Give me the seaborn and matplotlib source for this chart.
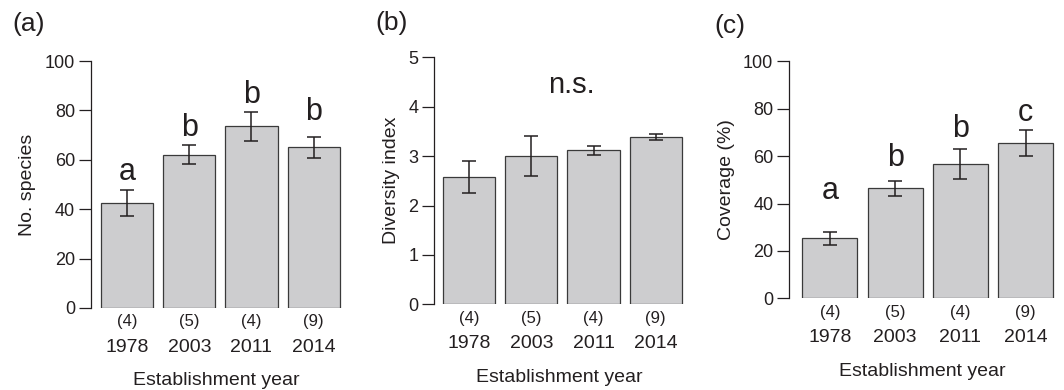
import matplotlib
matplotlib.use('Agg')
import matplotlib.pyplot as plt
import pandas as pd
import seaborn as sns

# values (means +/- SE)
years = ['1978', '2003', '2011', '2014']
n_plots = ['(4)', '(5)', '(4)', '(9)']

species_mean = [42.5, 62.0, 73.5, 65.0]
species_se = [5.2, 3.9, 5.9, 4.1]
species_letters = ['a', 'b', 'b', 'b']
species_letter_y = [52, 69.5, 83, 76]

diversity_mean = [2.58, 3.00, 3.12, 3.39]
diversity_se = [0.33, 0.40, 0.09, 0.06]

coverage_mean = [25.4, 46.5, 56.6, 65.6]
coverage_se = [2.7, 3.2, 6.3, 5.5]
coverage_letters = ['a', 'b', 'b', 'c']
coverage_letter_y = [42, 56, 68, 75]

sns.set_style('ticks')
plt.rcParams['font.family'] = ['Liberation Sans', 'DejaVu Sans']
ink = '#231f20'
plt.rcParams['text.color'] = ink
plt.rcParams['axes.labelcolor'] = ink
plt.rcParams['xtick.color'] = ink
plt.rcParams['ytick.color'] = ink

W, H = 1064, 390
fig = plt.figure(figsize=(W / 100, H / 100), dpi=100)

# pixel layout: left spine x, y of zero, y of top, px per category
panels = [
    dict(tag='(a)', mean=species_mean, se=species_se, ylab='No. species',
         ymax=100, ticks=[0, 20, 40, 60, 80, 100], letters=species_letters,
         letter_y=species_letter_y, x0=91, y0=308, y1=61, step=62.2,
         left=0.58, tagxy=(29, 24)),
    dict(tag='(b)', mean=diversity_mean, se=diversity_se, ylab='Diversity index',
         ymax=5, ticks=[0, 1, 2, 3, 4, 5], letters=None, letter_y=None,
         x0=434.3, y0=304.3, y1=57.3, step=62.2, left=0.56, tagxy=(392, 23)),
    dict(tag='(c)', mean=coverage_mean, se=coverage_se, ylab='Coverage (%)',
         ymax=100, ticks=[0, 20, 40, 60, 80, 100], letters=coverage_letters,
         letter_y=coverage_letter_y, x0=789.3, y0=298.3, y1=61.3, step=65.3,
         left=0.62, tagxy=(730, 26)),
]

for p in panels:
    right = 3.46
    width_px = (p['left'] + right) * p['step']
    ax = fig.add_axes([p['x0'] / W, (H - p['y0']) / H, width_px / W,
                       (p['y0'] - p['y1']) / H])
    df = pd.DataFrame({'year': years, 'value': p['mean']})
    sns.barplot(data=df, x='year', y='value', ax=ax, color='#cdcdcf',
                saturation=1, edgecolor='#3a3a3a', linewidth=0.9, width=0.84,
                errorbar=None)
    ax.errorbar(range(len(years)), p['mean'], yerr=p['se'], fmt='none',
                ecolor=ink, elinewidth=1.1, capsize=4.7, capthick=1.1)

    ax.set_xlim(-p['left'], right)
    ax.set_ylim(0, p['ymax'])
    ax.set_yticks(p['ticks'])
    sns.despine(ax=ax, bottom=True)
    ax.spines['left'].set_bounds(0, p['ymax'])
    ax.spines['left'].set_color(ink)
    ax.spines['left'].set_linewidth(0.9)
    ax.tick_params(axis='y', length=8.5, width=0.9, pad=3, labelsize=13)
    ax.tick_params(axis='x', length=0, pad=22, labelsize=14)
    ax.set_xlabel('Establishment year', fontsize=14, labelpad=12)
    ax.set_ylabel(p['ylab'], fontsize=14, labelpad=6)

    for i, n in enumerate(n_plots):
        ax.annotate(n, xy=(i, 0), xytext=(0, -10), textcoords='offset points',
                    ha='center', va='center', fontsize=12)

    if p['letters']:
        for i, (lt, ly) in enumerate(zip(p['letters'], p['letter_y'])):
            ax.text(i, ly, lt, ha='center', va='baseline', fontsize=22)
    else:
        ax.text(1.64, 4.27, 'n.s.', ha='center', va='baseline', fontsize=21)

    fig.text(p['tagxy'][0] / W, 1 - p['tagxy'][1] / H, p['tag'],
             ha='center', va='center', fontsize=19)

fig.savefig('out.png', dpi=100)
